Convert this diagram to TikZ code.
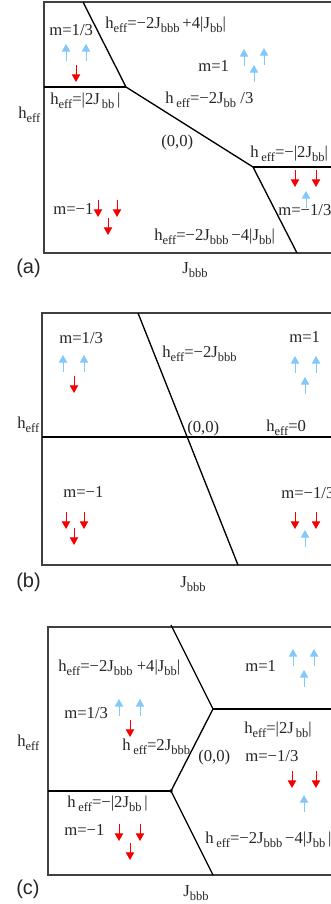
\documentclass[tikz,border=0pt]{standalone}
\usepackage{fontspec}
\setmainfont{Liberation Serif}
\newfontfamily\tagfont{Liberation Sans}
\usetikzlibrary{arrows.meta}
\definecolor{upblue}{RGB}{130,200,250}
\definecolor{dnred}{RGB}{245,0,0}
\newcommand{\lowsub}[1]{\raisebox{-2.4pt}{\fontsize{7.5}{8}\selectfont #1}}
\newcommand{\heff}{h\lowsub{eff}}
\tikzset{
  frame/.style={line width=0.7pt,black!75},
  phline/.style={line width=0.8pt,black},
  lbl/.style={anchor=base west,inner sep=0pt,font=\fontsize{10}{12}\selectfont,text=black!85},
  tag/.style={anchor=base west,inner sep=0pt,font=\tagfont\fontsize{12}{14}\selectfont,text=black!85},
  spinup/.style={-{Triangle[length=4.6pt,width=5pt]},line width=0.6pt,upblue},
  spindn/.style={-{Triangle[length=4.6pt,width=5pt]},line width=0.6pt,dnred},
  jdot/.style={circle,fill=black,inner sep=0.8pt},
}

\begin{document}
\begin{tikzpicture}[x=0.6pt,y=-0.6pt]
  \useasboundingbox (0,0) rectangle (331,904);
  \clip (0,0) rectangle (331,904);

  % (a)
  \coordinate (aTL) at (44,2);   \coordinate (aBL) at (44,253);
  \coordinate (aTR) at (345,2);  \coordinate (aBR) at (345,253);
  \coordinate (aP) at (83,2);    \coordinate (aQ) at (126,87);
  \coordinate (aL) at (44,87);   \coordinate (aR) at (253,167);
  \coordinate (aRR) at (345,167);\coordinate (aS) at (297,253);
  \draw[frame] (aTR) -- (aTL) -- (aBL) -- (aBR);
  \draw[phline] (aP) -- (aQ) -- (aR) -- (aS);
  \draw[phline] (aL) -- (aQ);
  \draw[phline] (aR) -- (aRR);

  \node[lbl] (aM13) at (49,35) {m=1/3};
  \node[lbl] (aHtop) at (105,28) {\heff=−2J\lowsub{bbb}\,+4|J\lowsub{bb}|};
  \node[lbl] (aM1) at (198,71) {m=1};
  \node[lbl] (aHl) at (50,104) {\heff=|2J\lowsub{\,bb}\,|};
  \node[lbl] (aHax) at (18,118) {\heff};
  \node[lbl] (aHmid) at (165,103) {h\,\lowsub{eff}=−2J\lowsub{bb}\ /3};
  \node[lbl] (aO) at (161,146) {(0,0)};
  \node[lbl] (aHr) at (250,157) {h\,\lowsub{eff}=−|2J\lowsub{bb}|};
  \node[lbl] (aMm13) at (278,215) {m=−1/3};
  \node[lbl] (aMm1) at (53,214) {m=−1};
  \node[lbl] (aHbot) at (154,240) {\heff=−2J\lowsub{bbb}\,−4|J\lowsub{bb}|};
  \node[tag] (aTag) at (16,273) {(a)};
  \node[lbl] (aJ) at (182,273) {J\lowsub{bbb}};

  \foreach \x/\y in {66/61,86/61,244/66,264/65,254/82,306/208}
    \draw[spinup] (\x,\y) -- ++(0,-17);
  \foreach \x/\y in {76/65,295/170,316/170,98/200,117/200,108/218}
    \draw[spindn] (\x,\y) -- ++(0,17);

  % (b)
  \coordinate (bTL) at (42,313);  \coordinate (bBL) at (42,565);
  \coordinate (bTR) at (345,313); \coordinate (bBR) at (345,565);
  \coordinate (bP) at (138,313);  \coordinate (bS) at (238,565);
  \coordinate (bL) at (42,437);   \coordinate (bR) at (345,437);
  \draw[frame] (bTR) -- (bTL) -- (bBL) -- (bBR);
  \draw[phline] (bP) -- (bS);
  \draw[phline] (bL) -- (bR);

  \node[lbl] (bM13) at (59,343) {m=1/3};
  \node[lbl] (bHs) at (162,357) {\heff=−2J\lowsub{bbb}};
  \node[lbl] (bM1) at (289,342) {m=1};
  \node[lbl] (bHax) at (17,428) {\heff};
  \node[lbl] (bO) at (187,432) {(0,0)};
  \node[lbl] (bH0) at (266,431) {\heff=0};
  \node[lbl] (bMm1) at (63,497) {m=−1};
  \node[lbl] (bMm13) at (281,498) {m=−1/3};
  \node[tag] (bTag) at (16,587) {(b)};
  \node[lbl] (bJ) at (180,587) {J\lowsub{bbb}};

  \foreach \x/\y in {63/372,84/372,295/373,316/373,305/394,305/547}
    \draw[spinup] (\x,\y) -- ++(0,-17);
  \foreach \x/\y in {74/376,66/512,84/512,74/528,295/512,316/512}
    \draw[spindn] (\x,\y) -- ++(0,17);

  % (c)
  \coordinate (cTL) at (48,627);  \coordinate (cBL) at (48,875);
  \coordinate (cTR) at (345,627); \coordinate (cBR) at (345,875);
  \coordinate (cP) at (171,625);  \coordinate (cQ) at (213,709);
  \coordinate (cQR) at (345,709); \coordinate (cS) at (213,875);
  \coordinate (cL) at (48,791);
  \node[jdot] (cD) at (171,791) {};
  \draw[frame] (cTR) -- (cTL) -- (cBL) -- (cBR);
  \draw[phline] (cP) -- (cQ) -- (cD.center) -- (cS);
  \draw[phline] (cQ) -- (cQR);
  \draw[phline] (cL) -- (cD.center);

  \node[lbl] (cHtop) at (58,671) {\heff=−2J\lowsub{bbb}\ +4|J\lowsub{bb}|};
  \node[lbl] (cM1) at (245,671) {m=1};
  \node[lbl] (cM13) at (64,718) {m=1/3};
  \node[lbl] (cHax) at (17,746) {\heff};
  \node[lbl] (cHs) at (122,750) {h\,\lowsub{eff}=2J\lowsub{bbb}};
  \node[lbl] (cHr) at (244,733) {\heff=|2J\lowsub{\,bb}|};
  \node[lbl] (cO) at (198,761) {(0,0)};
  \node[lbl] (cMm13) at (245,761) {m=−1/3};
  \node[lbl] (cHl) at (67,807) {h\,\lowsub{eff}=−|2J\lowsub{bb}\,|};
  \node[lbl] (cMm1) at (64,835) {m=−1};
  \node[lbl] (cHbot) at (205,843) {h\,\lowsub{eff}=−2J\lowsub{bbb}\,−4|J\lowsub{bb}\,|};
  \node[tag] (cTag) at (16,894) {(c)};
  \node[lbl] (cJ) at (183,896) {J\lowsub{bbb}};

  \foreach \x/\y in {293/666,314/666,304/687,119/716,140/716,304/812}
    \draw[spinup] (\x,\y) -- ++(0,-17);
  \foreach \x/\y in {130/720,292/771,316/771,119/824,140/824,130/843}
    \draw[spindn] (\x,\y) -- ++(0,17);
\end{tikzpicture}
\end{document}
